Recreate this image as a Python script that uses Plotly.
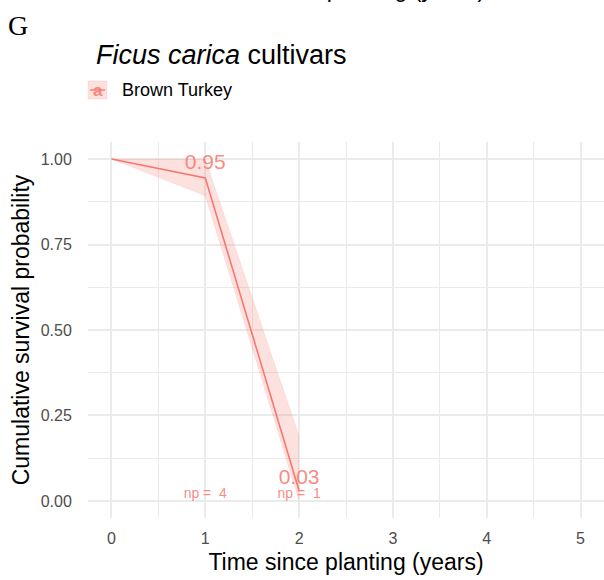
import plotly.graph_objects as go

# Data
times = [0, 1, 2]
survival = [1.00, 0.945, 0.03]
upper = [1.00, 1.00, 0.19]
lower = [1.00, 0.893, 0.0]
label_times = [1, 2]
label_values = [0.95, 0.03]
np_times = [1, 2]
np_counts = [4, 1]
cultivar = "Brown Turkey"

RED = "#F8766D"
FONT = "Liberation Sans, Arial, sans-serif"

fig = go.Figure()
fig.add_trace(go.Scatter(x=times, y=upper, mode="lines", line=dict(width=0.8, color="rgba(248,118,109,0.15)"),
                         showlegend=False, hoverinfo="skip"))
fig.add_trace(go.Scatter(x=times, y=lower, mode="lines", line=dict(width=0.8, color="rgba(248,118,109,0.15)"),
                         fill="tonexty", fillcolor="rgba(248,118,109,0.22)", showlegend=False, hoverinfo="skip"))
fig.add_trace(go.Scatter(x=times, y=survival, mode="lines", line=dict(color=RED, width=1.6),
                         name=cultivar, showlegend=False))
# survival value labels
fig.add_trace(go.Scatter(x=label_times, y=[v + 0.035 for v in label_values], mode="text",
                         text=[f"{v:.2f}" for v in label_values],
                         textfont=dict(family=FONT, size=21, color="rgba(248,118,109,0.85)"),
                         textposition="middle center", showlegend=False, hoverinfo="skip"))
# number at risk labels
fig.add_trace(go.Scatter(x=np_times, y=[0.02] * len(np_times), mode="text",
                         text=[f"np =  {n}" for n in np_counts],
                         textfont=dict(family=FONT, size=14, color="rgba(248,118,109,0.85)"),
                         textposition="middle center", showlegend=False, hoverinfo="skip"))

W, H = 604, 580
ML, MR, MT, MB = 88, 0, 142, 62
PW, PH = W - ML - MR, H - MT - MB


def ax(xp):
    return (xp - ML) / PW


def ay(yp):
    return (H - MB - yp) / PH


fig.update_layout(
    width=W, height=H,
    margin=dict(l=ML, r=MR, t=MT, b=MB, autoexpand=False),
    paper_bgcolor="white", plot_bgcolor="white",
    font=dict(family=FONT),
    showlegend=False,
    xaxis=dict(range=[-0.25, 5.25], dtick=1, tick0=0, showgrid=True, gridcolor="#EBEBEB", gridwidth=1.6,
               minor=dict(dtick=0.5, tick0=0, showgrid=True, gridcolor="#EBEBEB", gridwidth=0.9),
               zeroline=False, showline=False,
               ticks="outside", ticklen=6, tickcolor="rgba(0,0,0,0)",
               tickfont=dict(family=FONT, size=16, color="#4D4D4D"),
               title=dict(text="Time since planting (years)", font=dict(family=FONT, size=23, color="black"),
                          standoff=7)),
    yaxis=dict(range=[-0.05, 1.05], dtick=0.25, tick0=0, tickformat=".2f", showgrid=True, gridcolor="#EBEBEB",
               gridwidth=1.6,
               minor=dict(dtick=0.125, tick0=0, showgrid=True, gridcolor="#EBEBEB", gridwidth=0.9),
               zeroline=False, showline=False,
               ticks="outside", ticklen=12, tickcolor="rgba(0,0,0,0)",
               tickfont=dict(family=FONT, size=16, color="#4D4D4D"),
               title=dict(text="Cumulative survival probability", font=dict(family=FONT, size=23, color="black"),
                          standoff=4)),
)

annots = []
annots.append(dict(text="G", xref="paper", yref="paper", x=ax(6), y=ay(26),
                   xanchor="left", yanchor="middle", showarrow=False,
                   font=dict(family="Liberation Serif, serif", size=28, color="black")))
annots.append(dict(text="<i>Ficus carica</i> cultivars", xref="paper", yref="paper",
                   x=ax(94), y=ay(55), xanchor="left", yanchor="middle", showarrow=False,
                   font=dict(family=FONT, size=27, color="black")))
annots.append(dict(text=cultivar, xref="paper", yref="paper",
                   x=ax(120), y=ay(90), xanchor="left", yanchor="middle", showarrow=False,
                   font=dict(family=FONT, size=18, color="black")))
annots.append(dict(text="<b>a</b>", xref="paper", yref="paper",
                   x=ax(97.5), y=ay(91), xanchor="center", yanchor="middle", showarrow=False,
                   font=dict(family=FONT, size=17, color="rgba(248,118,109,0.85)")))
# clipped repeated title at the very top (cut off in the reference too)
annots.append(dict(text="Time since planting (years)", xref="paper", yref="paper",
                   x=ax(347), y=ay(4), xanchor="center", yanchor="bottom", showarrow=False,
                   font=dict(family=FONT, size=23, color="black")))
fig.update_layout(annotations=annots)

# legend key box
fig.add_shape(type="rect", xref="paper", yref="paper",
              x0=ax(88), x1=ax(107), y0=ay(99), y1=ay(81),
              fillcolor="rgba(248,118,109,0.22)", line=dict(width=0.8, color="rgba(248,118,109,0.15)"))
fig.add_shape(type="line", xref="paper", yref="paper",
              x0=ax(90), x1=ax(105), y0=ay(90), y1=ay(90),
              line=dict(width=1.4, color=RED))

fig.write_html("out.html", config={"displayModeBar": False},
               post_script="document.body.style.margin='0';document.body.style.overflow='hidden';")
